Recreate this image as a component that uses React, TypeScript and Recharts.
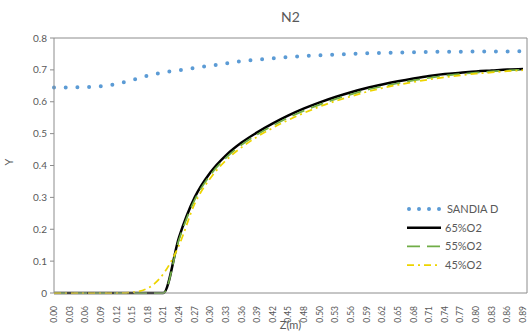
import React from 'react';
import { LineChart, Line, XAxis, YAxis, Legend } from 'recharts';

const zLabels = ['0.00','0.03','0.06','0.09','0.12','0.15','0.18','0.21','0.24','0.27','0.30','0.33','0.36','0.39','0.42','0.45','0.48','0.50','0.53','0.56','0.59','0.62','0.65','0.68','0.71','0.74','0.77','0.80','0.83','0.86','0.89'];
const sandiaD = [0.645,0.645,0.646,0.649,0.656,0.668,0.682,0.692,0.699,0.706,0.713,0.720,0.727,0.732,0.736,0.740,0.743,0.746,0.748,0.750,0.752,0.753,0.754,0.755,0.756,0.757,0.757,0.758,0.758,0.758,0.759];
const o2_65 = [0,0,0,0,0,0,0,0,0.175,0.30,0.378,0.432,0.472,0.504,0.532,0.557,0.579,0.598,0.615,0.63,0.643,0.654,0.664,0.673,0.681,0.687,0.691,0.695,0.698,0.701,0.703];
const o2_55 = [0,0,0,0,0,0,0,0,0.168,0.292,0.37,0.424,0.465,0.497,0.525,0.55,0.572,0.591,0.608,0.623,0.637,0.648,0.658,0.667,0.675,0.682,0.687,0.691,0.695,0.698,0.701];
const o2_45 = [0,0,0,0,0,0.002,0.015,0.06,0.15,0.28,0.36,0.416,0.457,0.49,0.518,0.543,0.565,0.585,0.602,0.617,0.631,0.643,0.653,0.662,0.67,0.677,0.683,0.688,0.692,0.696,0.699];
const yTicks = [0, 0.1, 0.2, 0.3, 0.4, 0.5, 0.6, 0.7, 0.8];

const data = zLabels.map((z, i) => ({
  z,
  sandia: sandiaD[i],
  o65: o2_65[i],
  o55: o2_55[i],
  o45: o2_45[i],
}));

const FONT = 'Lato, "Liberation Sans", sans-serif';
const TXT = '#595959';
const AXIS = '#8c8c8c';

const BLUE = '#5B9BD5';
const GREEN = '#70AD47';
const YELLOW = '#EDD400';

const XTick = (props: any) => {
  const { x, y, payload } = props;
  return (
    <g transform={`translate(${x},${y})`}>
      <text transform="rotate(-90)" x={-5} y={0} dy="0.35em" textAnchor="end" fontSize={8.5} fill={TXT} fontFamily={FONT}>
        {payload.value}
      </text>
    </g>
  );
};

const legendItems = [
  { name: 'SANDIA D', color: BLUE, dash: '0 10', width: 4, cap: 'round' },
  { name: '65%O2', color: '#000000', dash: undefined, width: 2.5, cap: 'butt' },
  { name: '55%O2', color: GREEN, dash: '13 7', width: 1.75, cap: 'butt' },
  { name: '45%O2', color: YELLOW, dash: '7 4 2 4', width: 1.75, cap: 'butt' },
];

const LegendContent = () => (
  <svg width={120} height={80} style={{ display: 'block' }}>
    {legendItems.map((it, i) => {
      const cy = 9 + i * 18.7;
      return (
        <g key={it.name}>
          <line x1={it.cap === 'round' ? 6 : 4} x2={38} y1={cy} y2={cy} stroke={it.color} strokeWidth={it.width} strokeDasharray={it.dash} strokeLinecap={it.cap as any} />
          <text x={it.name === 'SANDIA D' ? 44 : 42} y={cy} dy="0.35em" fontSize={11} fill={TXT} fontFamily={FONT}>{it.name}</text>
        </g>
      );
    })}
  </svg>
);

export default function App() {
  return (
    <div style={{ position: 'absolute', left: 0, top: 0, width: 530, height: 332, background: '#fff' }}>
      <LineChart width={530} height={332} data={data} margin={{ top: 37, right: 2, left: 0, bottom: 0 }}>
        <XAxis
          dataKey="z"
          xAxisId="b"
          interval={0}
          height={39}
          tick={<XTick />}
          tickLine={false}
          axisLine={{ stroke: AXIS }}
          padding={{ left: 0, right: 4 }}
          label={{ value: 'Z(m)', position: 'insideBottom', offset: 3, fontSize: 11, fill: TXT, fontFamily: FONT }}
        />
        <XAxis
          dataKey="z"
          xAxisId="t"
          orientation="top"
          height={1}
          tick={false}
          tickLine={false}
          axisLine={{ stroke: AXIS }}
          padding={{ left: 0, right: 4 }}
          label={{ value: 'N2', position: 'top', offset: 15, fontSize: 14, fill: TXT, fontFamily: FONT }}
        />
        <YAxis
          yAxisId="l"
          width={54}
          domain={[0, 0.8]}
          ticks={yTicks}
          interval={0}
          tickSize={4}
          tickMargin={3}
          tickFormatter={(v: number) => (v === 0 ? '0' : v.toFixed(1))}
          tick={{ fontSize: 10, fill: TXT, fontFamily: FONT }}
          tickLine={{ stroke: AXIS }}
          axisLine={{ stroke: AXIS }}
          label={{ value: 'Y', angle: -90, position: 'insideLeft', offset: 9, fontSize: 11, fill: TXT, fontFamily: FONT }}
        />
        <YAxis
          yAxisId="r"
          orientation="right"
          width={1}
          domain={[0, 0.8]}
          tick={false}
          tickLine={false}
          axisLine={{ stroke: AXIS }}
        />
        <Legend
          layout="vertical"
          align="center"
          verticalAlign="middle"
          content={<LegendContent />}
          wrapperStyle={{ position: 'absolute', left: 403, top: 200, width: 120, height: 80 }}
        />
        <Line xAxisId="b" yAxisId="l" type="monotone" dataKey="sandia" name="SANDIA D" stroke={BLUE} strokeWidth={4} strokeDasharray="0 11.7" strokeLinecap="round" dot={false} isAnimationActive={false} />
        <Line xAxisId="b" yAxisId="l" type="monotone" dataKey="o65" name="65%O2" stroke="#000000" strokeWidth={2.5} dot={false} isAnimationActive={false} />
        <Line xAxisId="b" yAxisId="l" type="monotone" dataKey="o55" name="55%O2" stroke={GREEN} strokeWidth={1.75} strokeDasharray="13 7" dot={false} isAnimationActive={false} />
        <Line xAxisId="b" yAxisId="l" type="monotone" dataKey="o45" name="45%O2" stroke={YELLOW} strokeWidth={1.75} strokeDasharray="7 4 2 4" dot={false} isAnimationActive={false} />
      </LineChart>
    </div>
  );
}
